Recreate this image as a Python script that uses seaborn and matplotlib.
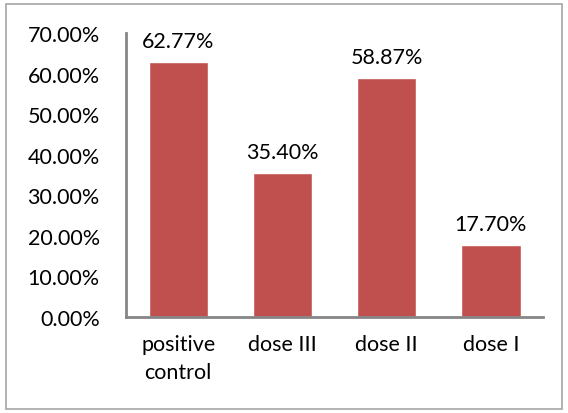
import matplotlib
matplotlib.use("Agg")
import matplotlib.pyplot as plt
import matplotlib.patches as mpatches
import pandas as pd
import seaborn as sns

# datos del gráfico
categorias = ["positive\ncontrol", "dose III", "dose II", "dose I"]
valores = [62.77, 35.40, 58.87, 17.70]
ticks_y = [0, 10, 20, 30, 40, 50, 60, 70]

sns.set_theme(style="white")
plt.rcParams["font.family"] = ["Lato", "DejaVu Sans"]

df = pd.DataFrame({"cat": categorias, "val": valores})

fig = plt.figure(figsize=(5.68, 4.14), dpi=100)
ax = fig.add_axes([0.222, 0.232, 0.734, 0.686])

sns.barplot(data=df, x="cat", y="val", color="#C0504D", saturation=1,
            width=0.57, ax=ax)

fs = 15.5
for i, v in enumerate(valores):
    ax.text(i, v + 2.8, f"{v:.2f}%", ha="center", va="bottom", fontsize=fs,
            color="black")

ax.set_ylim(0, 70)
ax.set_yticks(ticks_y)
ax.set_yticklabels([f"{t:.2f}%" for t in ticks_y], fontsize=fs)
ax.tick_params(axis="x", labelsize=fs, length=0, pad=12, labelcolor="black")
ax.tick_params(axis="y", length=0, pad=19, labelcolor="black")
for lbl in ax.get_xticklabels():
    lbl.set_linespacing(1.55)
ax.set_xlabel("")
ax.set_ylabel("")

for s in ["top", "right"]:
    ax.spines[s].set_visible(False)
for s in ["left", "bottom"]:
    ax.spines[s].set_color("#868686")
    ax.spines[s].set_linewidth(2)

# borde exterior del gráfico
borde = mpatches.Rectangle((6 / 568, 4 / 414), 556 / 568, 405 / 414,
                           transform=fig.transFigure, fill=False,
                           edgecolor="#A6A6A6", linewidth=1.2)
fig.patches.append(borde)

fig.savefig("out.png", dpi=100)
plt.close(fig)
